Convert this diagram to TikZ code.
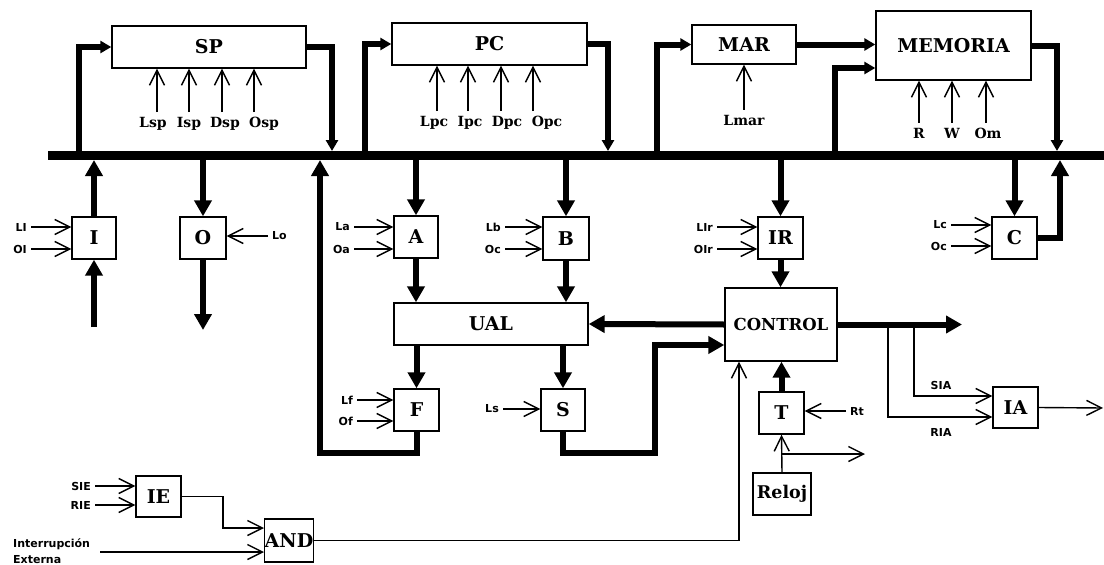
\documentclass[tikz,border=0pt]{standalone}
\usepackage{fontspec}
\setmainfont{DejaVu Serif}
\setsansfont{DejaVu Sans}
\usetikzlibrary{arrows.meta}

\begin{document}
\begin{tikzpicture}[x=1pt,y=-1pt,
      reg/.style={draw,line width=1.4pt,inner sep=0pt,font=\bfseries\fontsize{19}{21}\selectfont},
      sig/.style={font=\sffamily\bfseries\fontsize{11}{12}\selectfont,inner sep=4pt},
      ctl/.style={font=\bfseries\fontsize{14}{15}\selectfont,inner sep=5pt},
      bus/.style={line width=9pt},
      thk/.style={line width=6pt,-{Triangle[length=16pt,width=17pt]}},
      thks/.style={line width=6pt,-{Triangle[length=11pt,width=12pt]}},
      thn/.style={line width=1.4pt,-{Straight Barb[length=15pt,width=15pt]}}]
    \useasboundingbox (0,0) rectangle (1104,565);
    % registers
    \node[reg,minimum width=194pt,minimum height=42pt] (sp) at (209,47) {SP};
    \node[reg,minimum width=195pt,minimum height=42pt] (pc) at (489.5,44) {PC};
    \node[reg,minimum width=104pt,minimum height=39pt] (mar) at (744,44.5) {MAR};
    \node[reg,minimum width=155pt,minimum height=69pt] (mem) at (953.5,45.5) {MEMORIA};
    \node[reg,minimum width=44pt,minimum height=42pt] (i) at (94,238) {I};
    \node[reg,minimum width=46pt,minimum height=42pt] (o) at (203,238) {O};
    \node[reg,minimum width=44pt,minimum height=42pt] (a) at (416,237) {A};
    \node[reg,minimum width=46pt,minimum height=43pt] (b) at (566,238.5) {B};
    \node[reg,minimum width=45pt,minimum height=42pt] (ir) at (780.5,238) {IR};
    \node[reg,minimum width=45pt,minimum height=42pt] (c) at (1014.5,238) {C};
    \node[reg,minimum width=194pt,minimum height=42pt] (ual) at (491,324) {UAL};
    \node[reg,minimum width=112pt,minimum height=73pt,font=\bfseries\fontsize{16.5}{18}\selectfont] (ctrl) at (781,324.5) {CONTROL};
    \node[reg,minimum width=45pt,minimum height=42pt] (f) at (416.5,410) {F};
    \node[reg,minimum width=44pt,minimum height=42pt] (s) at (563,410) {S};
    \node[reg,minimum width=45pt,minimum height=42pt] (t) at (781.5,413) {T};
    \node[reg,minimum width=45pt,minimum height=41pt] (ia) at (1015.5,407.5) {IA};
    \node[reg,minimum width=58pt,minimum height=42pt,font=\bfseries\fontsize{17.5}{19}\selectfont] (reloj) at (782,494) {Reloj};
    \node[reg,minimum width=45pt,minimum height=41pt] (ie) at (158.5,496.5) {IE};
    \node[reg,minimum width=44pt,minimum height=43pt] (and) at (289,540.5) {AND};

    % bus
    \coordinate (busL) at (48,155.5);
    \coordinate (busR) at (1104,155.5);
    \coordinate (busT) at (0,151);
    \coordinate (busB) at (0,160);
    \draw[bus] (busL) -- (busR);

    % top row
    \coordinate (spIn) at (79,155.5);
    \coordinate (spOut) at (332,151);
    \coordinate (pcIn) at (365,155.5);
    \coordinate (pcOut) at (608,151);
    \coordinate (marIn) at (657,155.5);
    \coordinate (memIn) at (835,155.5);
    \coordinate (memOut) at (1057,151);
    \draw[thks] (spIn) |- (sp.west);
    \draw[thks] (sp.east) -| (spOut);
    \draw[thks] (pcIn) |- (pc.west);
    \draw[thks] (pc.east) -| (pcOut);
    \draw[thks] (marIn) |- (mar.west);
    \draw[thks] (mar.east) -- (mar.east -| mem.west);
    \draw[thks] (memIn) |- ([yshift=-22.5pt]mem.west);
    \draw[thks] (mem.east) -| (memOut);

    \node[ctl] (lsp) at (153,124) {Lsp};
    \node[ctl] (isp) at (189,124) {Isp};
    \node[ctl] (dsp) at (225,124) {Dsp};
    \node[ctl] (osp) at (264,124) {Osp};
    \node[ctl] (lpc) at (434,123) {Lpc};
    \node[ctl] (ipc) at (470,123) {Ipc};
    \node[ctl] (dpc) at (507,123) {Dpc};
    \node[ctl] (opc) at (547,123) {Opc};
    \node[ctl] (lmar) at (744,120) {Lmar};
    \node[ctl] (rd) at (919,133) {R};
    \node[ctl] (wr) at (952,133) {W};
    \node[ctl] (om) at (988,133) {Om};
    \draw[thn] ([xshift=4pt]lsp.north) -- ([xshift=4pt]lsp.north |- sp.south);
    \draw[thn] (isp.north) -- (isp.north |- sp.south);
    \draw[thn] ([xshift=-3pt]dsp.north) -- ([xshift=-3pt]dsp.north |- sp.south);
    \draw[thn] ([xshift=-10pt]osp.north) -- ([xshift=-10pt]osp.north |- sp.south);
    \draw[thn] ([xshift=3pt]lpc.north) -- ([xshift=3pt]lpc.north |- pc.south);
    \draw[thn] ([xshift=-2pt]ipc.north) -- ([xshift=-2pt]ipc.north |- pc.south);
    \draw[thn] ([xshift=-6pt]dpc.north) -- ([xshift=-6pt]dpc.north |- pc.south);
    \draw[thn] ([xshift=-14pt]opc.north) -- ([xshift=-14pt]opc.north |- pc.south);
    \draw[thn] (lmar.north) -- (mar.south);
    \draw[thn] (rd.north) -- (rd.north |- mem.south);
    \draw[thn] (wr.north) -- (wr.north |- mem.south);
    \draw[thn] ([xshift=-2pt]om.north) -- ([xshift=-2pt]om.north |- mem.south);

    % I and O
    \coordinate (iIn) at (94,327);
    \coordinate (oOut) at (203,330);
    \draw[thk] (i.north) -- (i.north |- busB);
    \draw[thk] (iIn) -- (i.south);
    \draw[thk] (o.north |- busL) -- (o.north);
    \draw[thk] (o.south) -- (oOut);
    \node[sig,anchor=east] (li) at (31,227) {LI};
    \node[sig,anchor=east] (oi) at (31,249) {OI};
    \node[sig,anchor=west] (lo) at (268,236) {Lo};
    \draw[thn] (li.east) -- (li.east -| i.west);
    \draw[thn] (oi.east) -- (oi.east -| i.west);
    \draw[thn] (lo.west) -- (lo.west -| o.east);

    % A, B, UAL, F, S
    \draw[thk] (a.north |- busL) -- (a.north);
    \draw[thk] (a.south) -- (a.south |- ual.north);
    \draw[thk] (b.north |- busL) -- (b.north);
    \draw[thk] (b.south) -- (b.south |- ual.north);
    \draw[thk] (f.north |- ual.south) -- (f.north);
    \draw[thk] (s.north |- ual.south) -- (s.north);
    \node[sig,anchor=east] (la) at (354,227) {La};
    \node[sig,anchor=east] (oa) at (354,249) {Oa};
    \node[sig,anchor=east] (lb) at (505,227) {Lb};
    \node[sig,anchor=east] (ob) at (505,249) {Oc};
    \node[sig,anchor=east] (lf) at (357,400) {Lf};
    \node[sig,anchor=east] (of) at (357,421) {Of};
    \node[sig,anchor=east] (ls) at (503,409) {Ls};
    \draw[thn] (la.east) -- (la.east -| a.west);
    \draw[thn] (oa.east) -- (oa.east -| a.west);
    \draw[thn] (lb.east) -- (lb.east -| b.west);
    \draw[thn] (ob.east) -- (ob.east -| b.west);
    \draw[thn] (lf.east) -- (lf.east -| f.west);
    \draw[thn] (of.east) -- (of.east -| f.west);
    \draw[thn] (ls.east) -- (ls.east -| s.west);
    \coordinate (fUp) at (320,453);
    \coordinate (sDn) at (655,453);
    \draw[thk] (f.south) |- (fUp) -- (fUp |- busB);
    \draw[thk] (s.south) |- (sDn) |- ([yshift=-20.5pt]ctrl.west);

    % IR, CONTROL
    \draw[thk] (ir.north |- busL) -- (ir.north);
    \draw[thk] (ir.south) -- (ir.south |- ctrl.north);
    \draw[thk] (ctrl.west) -- (ual.east);
    \node[sig,anchor=east] (lir) at (717,227) {LIr};
    \node[sig,anchor=east] (oir) at (717,249) {OIr};
    \draw[thn] (lir.east) -- (lir.east -| ir.west);
    \draw[thn] (oir.east) -- (oir.east -| ir.west);
    \coordinate (ctlOut) at (962,324.5);
    \draw[thk] (ctrl.east) -- (ctlOut);

    % C
    \coordinate (cUp) at (1060,160);
    \draw[thk] (c.north |- busL) -- (c.north);
    \draw[thk] (c.east) -| (cUp);
    \node[sig,anchor=east] (lc) at (951,225) {Lc};
    \node[sig,anchor=east] (oc) at (951,246) {Oc};
    \draw[thn] (lc.east) -- (lc.east -| c.west);
    \draw[thn] (oc.east) -- (oc.east -| c.west);

    % IA
    \coordinate (k1) at (888,324.5);
    \coordinate (k2) at (914,324.5);
    \coordinate (iaOut) at (1103,408);
    \draw[thn] (k2) |- ([yshift=11.5pt]ia.west);
    \draw[thn] (k1) |- ([yshift=-9.5pt]ia.west);
    \draw[thn] (ia.east) -- (iaOut);
    \node[sig] (sia) at (941,385) {SIA};
    \node[sig] (ria) at (941,432) {RIA};

    % T, Reloj
    \draw[thk] (t.north) -- (t.north |- ctrl.south);
    \node[sig,anchor=west] (rt) at (846,411) {Rt};
    \draw[thn] (rt.west) -- (rt.west -| t.east);
    \draw[thn] (reloj.north) -- (t.south);
    \coordinate (rk) at (782,454);
    \coordinate (rkOut) at (865,454);
    \draw[thn] (rk) -- (rkOut);

    % IE, AND
    \node[sig,anchor=east] (sie) at (95,486) {SIE};
    \node[sig,anchor=east] (rie) at (95,505) {RIE};
    \draw[thn] (sie.east) -- (sie.east -| ie.west);
    \draw[thn] (rie.east) -- (rie.east -| ie.west);
    \coordinate (iek) at (223,528);
    \draw[thn] (ie.east) -| (iek) -- (iek -| and.west);
    \node[sig,anchor=west,align=left,inner sep=0pt,font=\sffamily\bfseries\fontsize{11}{16}\selectfont] (intx) at (13,551) {Interrupción\\Externa};
    \coordinate (intIn) at (100,552);
    \draw[thn] (intIn) -- (intIn -| and.west);
    \draw[thn] (and.east) -| ([xshift=-42pt]ctrl.south);
  \end{tikzpicture}
\end{document}
